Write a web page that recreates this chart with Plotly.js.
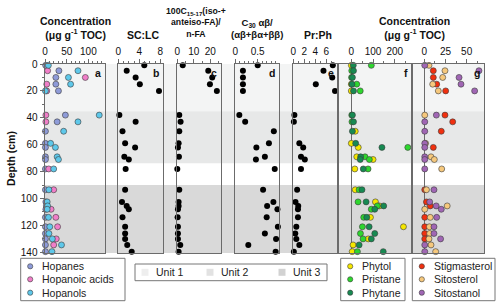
<!DOCTYPE html>
<html><head><meta charset="utf-8">
<script src="https://cdn.plot.ly/plotly-3.0.1.min.js"></script>
<style>html,body{margin:0;padding:0;background:#fff}#chart{width:500px;height:306px}</style>
</head><body><div id="chart"></div>
<script>
// ---------- DATA ----------
const depth = [1, 5, 10, 15, 20, 38, 43, 50, 59, 62, 69, 71, 78, 93.5, 102.5, 105.5, 108, 114, 121, 126, 130, 134.5, 139.5];

// Panel a: concentrations (µg g-1 TOC)
const hopanes       = [1.5, 32, 25, 25, 31, 47, 28, 1, 1, 1, 1, 1, 1, 1, 2, 3, 2, 1, 1, 1, 1, 1, 1];
const hopanoicAcids = [null, 6, 93, 4, 4, 2, 2, null, null, null, null, null, 8.5, 20, null, null, 14, 25, 29, null, 26, 20, null];
const hopanols      = [7.7, 76, 54, 59, 1, 125, 76, 43, 13, 24, 28, 31, 20, 9, 5, 6, 5, 8, 11, 9, 17, 38, 16];

// Panel b-e ratios
const scLc   = [4.95, 1.6, 3.3, 4.1, 7.75, 0.2, 3.3, 0.8, 1.3, 3.2, 1.15, 2.0, 1.4, 1.3, 0.7, 1.6, 2.0, 0.8, 1.3, 1.3, 1.3, 1.7, 2.55];
const isoFA  = [3.3, 18.8, 21.2, 19.8, 24.0, 1.2, 2.0, 1.2, 0.8, 0.4, 1.0, null, 0, 1.2, 0.8, 0.8, 0.4, 0.2, 0.4, 0.4, 0.4, 1.8, 0.8];
const c30ab  = [0.5, 0.17, 0.17, 0.17, 0.17, 0.09, 0.22, 0.86, 0.75, 0.47, 0.66, 0.46, 0.88, 0.62, 0.85, 0.71, 0.94, 0.70, 0.95, 0.66, 0.91, 0.29, 0.90];
const prPh   = [7.2, 5.5, 7.1, 4.1, 7.6, 0.2, 0.1, null, 1.1, 1.8, 1.4, 2.1, 1.4, 0.7, 0.4, 0.9, 0.85, 0.85, 0.55, 0.36, 0.55, 1.1, 0.1];

// Panel f
const phytol   = [0, null, null, 0, 0, null, null, 18, 0, 32, 25, 100, 16, 18, 111, 129, null, 88, 240, null, 78, 8, 4];
const pristane = [92, 2, 1, 25, 41, 2, 3, null, null, 260, 63, 83, 77, 36, 31, 120, 92, 57, 51, 42, 54, null, 28];
const phytane  = [9, 10, 5, 3, 10, 5, 10, 5, 20, 141, 43, 41, 55, 49, 68, 149, 108, 71, 82, 108, 92, 36, 147];

// Panel g
const stigmasterol = [null, 10.6, 10.6, 14.6, 25.2, 24.4, 33.5, 20, null, 10.6, null, null, null, 0.5, 2.5, 7, null, 0.5, 0.5, 0.5, 0.5, null, null];
const sitosterol   = [5.5, 24.4, 21.7, 9.9, 16.5, 0.5, null, null, 1.5, null, 7.9, 11.8, 20.5, 2.5, null, 27, 0.5, 7, 6, 6.3, 5.5, 7.9, 13.4];
const sitostanol   = [0.5, 64.5, 41, 43.3, 59.4, 14.2, 0.5, 0.5, 0.5, 0.5, 0.5, 0.5, 0.5, 11.4, 6.3, 14, 20, 14.6, 11.4, 11.4, 19.2, 0.5, 0.5];

// Lithological units (depth bounds, cm)
const unitNames  = ['Unit 1', 'Unit 2', 'Unit 3'];
const unitTop    = [0, 35.2, 90];
const unitBottom = [35.2, 73.8, 140.5];

// Panel letters
const panelLetters = ['a', 'b', 'c', 'd', 'e', 'f', 'g'];

// ---------- STYLE / LAYOUT ----------
const W = 500, H = 306;
const fx = x => x / W, fy = y => 1 - y / H;
const FONT = 'Liberation Sans, Arial, Helvetica, sans-serif';
const LINE = '#6b6b6b';
const OUT = '#3a3a3a';

const colA = ['#8e9bd8', '#f07ec8', '#5ec8ea'];
const colF = ['#f5e600', '#2ed62e', '#178a52'];
const colG = ['#f0300f', '#f6c87c', '#a066b4'];
const unitColors = ['#f3f4f4', '#e7e8e8', '#d9d9d9'];
const unitLegColors = ['#eeeeee', '#e2e2e2', '#d2d2d2'];

const domPx = [[45,105.3],[118.3,163.3],[176.7,221.3],[235,279.3],[293.3,338.3],[338.3,411.7],[411.7,484.3]];
const yDom = [fy(253), fy(64)];

function mk(x, name, color, ax, black) {
  return {
    type: 'scatter', mode: 'markers', x: x, y: depth, name: name,
    xaxis: 'x' + (ax === 1 ? '' : ax), yaxis: 'y' + (ax === 1 ? '' : ax),
    cliponaxis: false, showlegend: false,
    marker: black ? {size: 6, color: '#000'} : {size: 6, color: color, line: {color: OUT, width: 0.6}},
    hoverinfo: 'x+y+name'
  };
}

const traces = [
  mk(hopanes, 'Hopanes', colA[0], 1), mk(hopanoicAcids, 'Hopanoic acids', colA[1], 1), mk(hopanols, 'Hopanols', colA[2], 1),
  mk(scLc, 'SC:LC', null, 2, true),
  mk(isoFA, '100C15-17(iso-+anteiso-FA)/n-FA', null, 3, true),
  mk(c30ab, 'C30 αβ/(αβ+βα+ββ)', null, 4, true),
  mk(prPh, 'Pr:Ph', null, 5, true),
  mk(phytol, 'Phytol', colF[0], 6), mk(pristane, 'Pristane', colF[1], 6), mk(phytane, 'Phytane', colF[2], 6),
  mk(stigmasterol, 'Stigmasterol', colG[0], 7), mk(sitosterol, 'Sitosterol', colG[1], 7), mk(sitostanol, 'Sitostanol', colG[2], 7)
];

const xSpecs = [
  {range: [0, 139], tickmode: 'linear', tick0: 0, dtick: 50, minor: {ticks: 'outside', ticklen: 2.5, tickmode: 'linear', tick0: 0, dtick: 10, tickcolor: LINE}},
  {range: [0, 8.57], tickmode: 'linear', tick0: 0, dtick: 4, minor: {ticks: 'outside', ticklen: 2.5, tickmode: 'linear', tick0: 0, dtick: 1, tickcolor: LINE}},
  {range: [-0.36, 26.7], tickmode: 'linear', tick0: 0, dtick: 10, minor: {ticks: 'outside', ticklen: 2.5, tickmode: 'linear', tick0: 0, dtick: 5, tickcolor: LINE}},
  {range: [-0.007, 0.982], tickmode: 'linear', tick0: 0, dtick: 0.5, minor: {ticks: 'outside', ticklen: 2.5, tickmode: 'linear', tick0: 0, dtick: 0.1, tickcolor: LINE}},
  {range: [0, 8.2], tickmode: 'array', tickvals: [0, 2, 4, 6], minor: {ticks: 'outside', ticklen: 2.5, tickmode: 'array', tickvals: [1, 3, 5, 7], tickcolor: LINE}},
  {range: [-60, 278], tickmode: 'array', tickvals: [0, 100, 200], zeroline: true, minor: {ticks: 'outside', ticklen: 2.5, tickmode: 'array', tickvals: [50, 150, 250], tickcolor: LINE}},
  {range: [-14.9, 70.8], tickmode: 'array', tickvals: [0, 25, 50], zeroline: true, minor: {ticks: 'outside', ticklen: 2.5, tickmode: 'array', tickvals: [12.5, 37.5, 62.5], tickcolor: LINE}}
];

const layout = {
  width: W, height: H,
  margin: {l: 0, r: 0, t: 0, b: 0},
  paper_bgcolor: '#fff', plot_bgcolor: 'rgba(0,0,0,0)',
  showlegend: false,
  font: {family: FONT, size: 10, color: '#111'},
  shapes: [], annotations: []
};

for (let i = 0; i < 7; i++) {
  const sfx = i === 0 ? '' : String(i + 1);
  const s = xSpecs[i];
  layout['xaxis' + sfx] = Object.assign({
    domain: [fx(domPx[i][0]), fx(domPx[i][1])],
    anchor: 'y' + sfx, side: 'top', autorange: false,
    showline: true, mirror: true, linecolor: LINE, linewidth: 1,
    ticks: 'outside', ticklen: 4.5, tickcolor: LINE, tickwidth: 1,
    showgrid: false, zeroline: false, zerolinecolor: LINE, zerolinewidth: 1,
    tickfont: {size: 10, color: '#111'}, fixedrange: true
  }, s);
  const yax = {
    domain: yDom, anchor: 'x' + sfx,
    range: [140.5, 0], autorange: false,
    showline: true, mirror: true, linecolor: LINE, linewidth: 1,
    showgrid: false, zeroline: false, fixedrange: true
  };
  if (i === 0) {
    Object.assign(yax, {
      tickmode: 'linear', tick0: 0, dtick: 20, ticks: 'outside', ticklen: 4.5, tickcolor: LINE,
      minor: {ticks: 'outside', ticklen: 2.5, tickmode: 'linear', tick0: 10, dtick: 20, tickcolor: LINE},
      tickfont: {size: 10, color: '#111'},
      title: {text: 'Depth (cm)', font: {size: 10.5, weight: 'bold', color: '#111'}, standoff: 3}
    });
  } else {
    Object.assign(yax, {matches: 'y', showticklabels: false, ticks: ''});
  }
  layout['yaxis' + sfx] = yax;

  layout.annotations.push({
    xref: 'x' + sfx + ' domain', yref: 'y' + sfx + ' domain', x: 1, y: 1,
    xanchor: 'right', yanchor: 'top', xshift: -2, yshift: -1, showarrow: false,
    text: panelLetters[i], font: {size: 10.5, weight: 'bold', color: '#111'}
  });
}

// unit bands
for (let u = 0; u < unitNames.length; u++) {
  layout.shapes.push({
    type: 'rect', layer: 'below', xref: 'paper', yref: 'y',
    x0: fx(domPx[0][0]), x1: fx(domPx[6][1]), y0: unitTop[u], y1: unitBottom[u],
    fillcolor: unitColors[u], line: {width: 0}
  });
}

// panel titles
const tf = s => ({size: s, weight: 'bold', color: '#111'});
const conc = 'Concentration<br>(μg g<sup>-1</sup> TOC)';
const titles = [
  [75, conc, tf(10.5), 43], [142.5, 'SC:LC', tf(10.5), 43],
  [196, '100C<sub>15-17</sub>(iso-+<br>anteiso-FA)/<br>n-FA', tf(8.7), 41.5],
  [256.5, 'C<sub>30</sub> αβ/<br>(αβ+βα+ββ)', tf(9.5), 42.3],
  [318, 'Pr:Ph', tf(10.5), 43], [414, conc, tf(10.5), 43]
];
titles.forEach(t => layout.annotations.push({
  xref: 'paper', yref: 'paper', x: fx(t[0]), y: fy(t[3]), xanchor: 'center', yanchor: 'bottom',
  showarrow: false, text: t[1], font: t[2], align: 'center'
}));

// legends (boxes, symbols, labels)
const legFont = {size: 10.5, color: '#222'};
function legendBox(x0, y0, x1, y1) {
  layout.shapes.push({type: 'rect', xref: 'paper', yref: 'paper', x0: fx(x0), x1: fx(x1), y0: fy(y1), y1: fy(y0),
    line: {color: '#777', width: 1}, fillcolor: '#fff', layer: 'above'});
}
function vLegend(x0, x1, names, colors) {
  legendBox(x0, 258.3, x1, 300.7);
  const rows = [266.3, 279.3, 292.7];
  names.forEach((n, k) => {
    const cx = x0 + 9.5, cy = rows[k];
    layout.shapes.push({type: 'circle', xref: 'paper', yref: 'paper', layer: 'above',
      x0: fx(cx - 2.6), x1: fx(cx + 2.6), y0: fy(cy + 2.6), y1: fy(cy - 2.6),
      fillcolor: colors[k], line: {color: OUT, width: 0.6}});
    layout.annotations.push({xref: 'paper', yref: 'paper', x: fx(x0 + 19.5), y: fy(cy), xanchor: 'left', yanchor: 'middle',
      showarrow: false, text: n, font: legFont});
  });
}
vLegend(20.7, 125, ['Hopanes', 'Hopanoic acids', 'Hopanols'], colA);
vLegend(340.7, 405, ['Phytol', 'Pristane', 'Phytane'], colF);
vLegend(412.3, 495, ['Stigmasterol', 'Sitosterol', 'Sitostanol'], colG);

legendBox(135, 264, 327, 280.7);
const unitLegX = [145, 210, 282];
unitNames.forEach((n, k) => {
  const cx = unitLegX[k], cy = 272.3;
  layout.shapes.push({type: 'rect', xref: 'paper', yref: 'paper', layer: 'above',
    x0: fx(cx - 3.5), x1: fx(cx + 3.5), y0: fy(cy + 3.5), y1: fy(cy - 3.5),
    fillcolor: unitLegColors[k], line: {width: 0}});
  layout.annotations.push({xref: 'paper', yref: 'paper', x: fx(cx + 9), y: fy(cy), xanchor: 'left', yanchor: 'middle',
    showarrow: false, text: n, font: legFont});
});

Plotly.newPlot('chart', traces, layout, {displayModeBar: false, staticPlot: true});
</script></body></html>
